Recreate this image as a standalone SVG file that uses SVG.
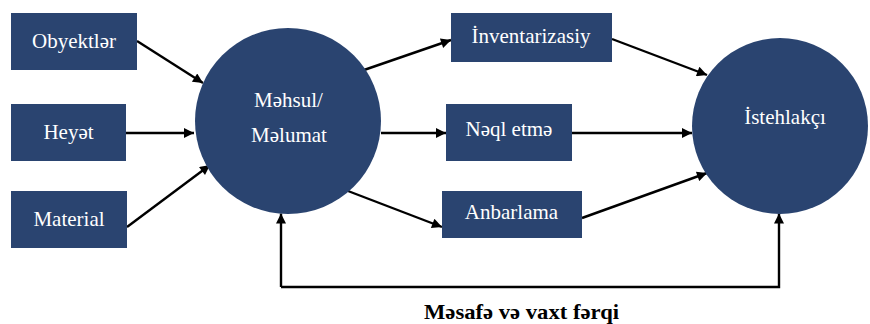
<svg xmlns="http://www.w3.org/2000/svg" width="870" height="324" viewBox="0 0 870 324">
<defs>
<style>
.node{fill:#2a4470}
.lbl{fill:#ffffff;font-family:"Liberation Serif","DejaVu Serif",serif;font-size:21px;text-anchor:middle}
.conn{stroke:#000;stroke-width:2.4;fill:none;marker-end:url(#ah)}
.cap{fill:#000;font-family:"Liberation Serif","DejaVu Serif",serif;font-size:22px;font-weight:bold;text-anchor:middle}
</style>
<marker id="ah" viewBox="0 0 10 10" refX="10" refY="5" markerWidth="12" markerHeight="10" markerUnits="userSpaceOnUse" orient="auto">
<path d="M0,0 L10,5 L0,10 Z" fill="#000"/>
</marker>
</defs>
<rect width="870" height="324" fill="#fff"/>
<g id="connectors">
<line class="conn" x1="137" y1="41" x2="203" y2="83"/>
<line class="conn" x1="126" y1="133" x2="194" y2="133"/>
<line class="conn" x1="127" y1="227" x2="210" y2="165"/>
<line class="conn" x1="364" y1="70" x2="451" y2="40"/>
<line class="conn" x1="381" y1="133" x2="446" y2="133"/>
<line class="conn" x1="348" y1="191" x2="442" y2="227"/>
<line class="conn" x1="612" y1="39" x2="707" y2="75"/>
<line class="conn" x1="572" y1="133" x2="692" y2="133"/>
<line class="conn" x1="582" y1="218" x2="707" y2="173"/>
<polyline class="conn" points="281,287 281,213.5"/>
<polyline class="conn" points="281,287 779,287 779,213.5"/>
</g>
<g id="obyektler"><rect class="node" x="11" y="13" width="126" height="57"/><text class="lbl" x="74" y="48">Obyektlər</text></g>
<g id="heyet"><rect class="node" x="11" y="104" width="115" height="57"/><text class="lbl" x="68.5" y="139">Heyət</text></g>
<g id="material"><rect class="node" x="11" y="191" width="116" height="57"/><text class="lbl" x="69" y="226">Material</text></g>
<g id="mehsul"><circle class="node" cx="288" cy="121" r="93"/><text class="lbl" x="288.5" y="107">Məhsul/</text><text class="lbl" x="289" y="142">Məlumat</text></g>
<g id="inventarizasiy"><rect class="node" x="451" y="13" width="161" height="49"/><text class="lbl" x="531" y="43">İnventarizasiy</text></g>
<g id="neql"><rect class="node" x="446" y="104" width="126" height="57"/><text class="lbl" x="509" y="136">Nəql etmə</text></g>
<g id="anbarlama"><rect class="node" x="442" y="191" width="140" height="47"/><text class="lbl" x="511.5" y="219">Anbarlama</text></g>
<g id="istehlakci"><circle class="node" cx="780" cy="126" r="88"/><text class="lbl" x="785" y="124">İstehlakçı</text></g>
<text class="cap" x="521.5" y="318.5" textLength="195" lengthAdjust="spacingAndGlyphs">Məsafə və vaxt fərqi</text>
</svg>
